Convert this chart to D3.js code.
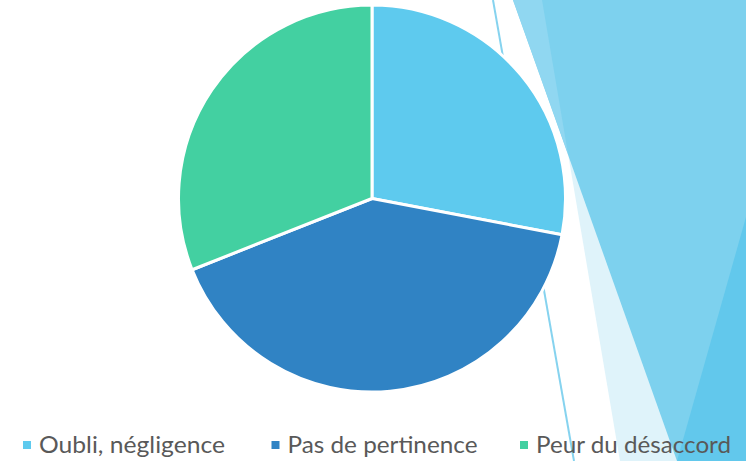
<!DOCTYPE html>
<html>
<head>
<meta charset="utf-8">
<script src="https://cdn.jsdelivr.net/npm/d3@7"></script>
<style>
html,body{margin:0;padding:0;background:#fff;}
svg{display:block;}
</style>
</head>
<body>
<svg id="chart" width="746" height="461"></svg>
<script>
const categories = ["Oubli, négligence", "Pas de pertinence", "Peur du désaccord"];
const values = [28, 41, 31];
const colors = ["#5ecaee", "#3083c4", "#43d0a1"];

const W = 746, H = 461;
const svg = d3.select("#chart");

// background decoration (theme shapes)
const deco = svg.append("g");
deco.append("polygon").attr("points", "542,0 746,0 746,461 620,461").attr("fill", "#dff3fa");
deco.append("polygon").attr("points", "513,0 746,0 746,461 677,461").attr("fill", "#7dd1ee");
deco.append("polygon").attr("points", "513,0 542,0 568,154").attr("fill", "#90d7f1");
deco.append("polygon").attr("points", "746,217 677,461 746,461").attr("fill", "#62c8ec");
deco.append("line").attr("x1", 493).attr("y1", 0).attr("x2", 574).attr("y2", 461)
  .attr("stroke", "#86d3ef").attr("stroke-width", 2);

// pie
const cx = 372, cy = 198.5, r = 193.5;
const pie = d3.pie().sort(null).value(d => d).startAngle(0).endAngle(2 * Math.PI);
const arc = d3.arc().innerRadius(0).outerRadius(r);
const g = svg.append("g").attr("transform", `translate(${cx},${cy})`);
g.selectAll("path").data(pie(values)).join("path")
  .attr("d", arc)
  .attr("fill", (d, i) => colors[i])
  .attr("stroke", "#ffffff")
  .attr("stroke-width", 3)
  .attr("stroke-linejoin", "round");

// legend
const legendX = d3.scalePoint().domain(categories).range([23, 520]);
const textWidths = [186, 190, 195];
const leg = svg.append("g");
const items = leg.selectAll("g").data(categories).join("g")
  .attr("transform", d => `translate(${legendX(d)},0)`);
items.append("rect").attr("x", 0).attr("y", 441).attr("width", 8).attr("height", 8)
  .attr("fill", (d, i) => colors[i]);
items.append("text").attr("x", 16).attr("y", 453)
  .attr("font-family", "Lato, 'Open Sans', sans-serif")
  .attr("font-size", 23)
  .attr("fill", "#595959")
  .attr("textLength", (d, i) => textWidths[i])
  .attr("lengthAdjust", "spacingAndGlyphs")
  .text(d => d);
</script>
</body>
</html>
